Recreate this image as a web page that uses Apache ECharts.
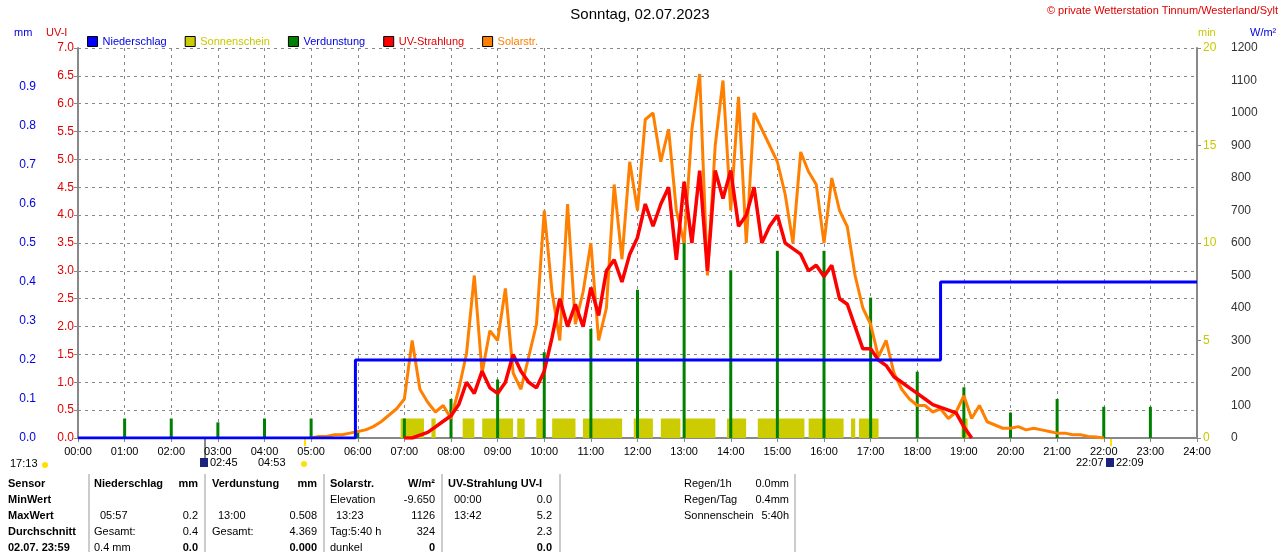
<!DOCTYPE html>
<html><head><meta charset="utf-8">
<script src="https://cdn.jsdelivr.net/npm/echarts@6/dist/echarts.min.js"></script>
<style>html,body{margin:0;padding:0;background:#fff}#c{width:1280px;height:552px}</style>
</head><body><div id="c"></div>
<script>
// ---- data ----
const hourLabels = ["00:00","01:00","02:00","03:00","04:00","05:00","06:00","07:00","08:00","09:00","10:00","11:00","12:00","13:00","14:00","15:00","16:00","17:00","18:00","19:00","20:00","21:00","22:00","23:00","24:00"];
// Solar radiation W/m², every 10 min from 05:00
const solarStart = 5, solarStep = 1/6;
const solarValues = [
 0,5,5,10,10,15,
 20,25,35,50,70,90,
 120,300,150,110,80,100,
 60,150,260,500,200,330,
 300,460,200,150,250,350,
 700,450,300,720,350,450,
 600,300,400,780,550,850,
 700,980,1000,850,950,700,
 600,950,1120,500,900,1100,
 700,1050,600,1000,950,900,
 850,750,600,880,820,780,
 600,800,700,650,500,400,
 350,250,300,200,150,120,
 100,100,80,90,60,80,
 130,60,100,50,40,30,
 30,35,25,30,25,20,
 15,15,10,10,5,3,
 0];
// UV index, every 10 min from 07:00
const uvStart = 7, uvStep = 1/6;
const uvValues = [
 0,0,0.05,0.1,0.2,0.3,
 0.4,0.6,1.0,0.8,1.2,0.9,
 0.8,1.0,1.5,1.2,1.0,0.9,
 1.2,1.8,2.5,2.0,2.4,2.0,
 2.7,2.2,3.0,3.2,2.8,3.3,
 3.6,4.2,3.8,4.2,4.5,3.2,
 4.6,3.5,4.8,3.0,4.8,4.3,
 4.8,3.8,4.0,4.5,3.5,3.8,
 4.0,3.5,3.4,3.3,3.0,3.1,
 2.9,3.1,2.5,2.4,2.0,1.6,
 1.6,1.4,1.3,1.1,1.0,0.9,
 0.8,0.7,0.6,0.55,0.5,0.45,
 0.2,0];
// Precipitation cumulative (mm), step
const rainTimes = [0, 5.95, 5.95, 18.5, 18.5, 24];
const rainValues = [0, 0, 0.2, 0.2, 0.4, 0.4];
// Evaporation per hour (mm)
const evapHours = [1,2,3,4,5,6,7,8,9,10,11,12,13,14,15,16,17,18,19,20,21,22,23];
const evapValues = [0.05,0.05,0.04,0.05,0.05,0.02,0.05,0.1,0.15,0.22,0.28,0.38,0.508,0.43,0.48,0.48,0.36,0.17,0.13,0.065,0.1,0.08,0.08];
// Sunshine intervals (hours) with 1 min/bin
const sunIntervals = [[6.92,7.42],[7.58,7.67],[8.25,8.5],[8.67,9.33],[9.42,9.58],[9.83,10.0],[10.17,10.67],[10.83,11.67],[11.92,12.33],[12.5,12.92],[13.0,13.67],[13.92,14.33],[14.58,15.58],[15.67,16.42],[16.58,16.67],[16.75,17.17],[18.95,19.08]];
const sunValue = 1;

// ---- build ----
const solarData = solarValues.map((v,i)=>[solarStart+i*solarStep, v]);
const uvData = uvValues.map((v,i)=>[uvStart+i*uvStep, v]);
const rainData = rainTimes.map((t,i)=>[t, rainValues[i]]);
const evapData = evapHours.map((h,i)=>[h, evapValues[i]]);
const sunData = [];
sunIntervals.forEach(([a,b])=>{sunData.push([a,0],[a,sunValue],[b,sunValue],[b,0]);});

const F = 'Liberation Sans';
const fs = 11;
const gl = {show:true,lineStyle:{color:'#888',type:[3,4],width:1}};
const chart = echarts.init(document.getElementById('c'));

const T = (x,y,text,opt={})=>({type:'text',x, y, style:Object.assign({text, font:`${opt.bold?'bold ':''}${opt.size||fs}px ${F}`, fill:opt.color||'#000', textAlign:opt.align||'left', textVerticalAlign:'middle'})});
const table = [];
const rowsY = [484,500,516,532,548];
['Sensor','MinWert','MaxWert','Durchschnitt','02.07. 23:59'].forEach((t,i)=>table.push(T(8,rowsY[i],t,{bold:true})));
table.push(T(94,484,'Niederschlag',{bold:true}),T(198,484,'mm',{bold:true,align:'right'}));
table.push(T(100,516,'05:57'),T(198,516,'0.2',{align:'right'}));
table.push(T(94,532,'Gesamt:'),T(198,532,'0.4',{align:'right'}));
table.push(T(94,548,'0.4 mm'),T(198,548,'0.0',{bold:true,align:'right'}));
table.push(T(212,484,'Verdunstung',{bold:true}),T(317,484,'mm',{bold:true,align:'right'}));
table.push(T(218,516,'13:00'),T(317,516,'0.508',{align:'right'}));
table.push(T(212,532,'Gesamt:'),T(317,532,'4.369',{align:'right'}));
table.push(T(317,548,'0.000',{bold:true,align:'right'}));
table.push(T(330,484,'Solarstr.',{bold:true}),T(435,484,'W/m²',{bold:true,align:'right'}));
table.push(T(330,500,'Elevation'),T(435,500,'-9.650',{align:'right'}));
table.push(T(336,516,'13:23'),T(435,516,'1126',{align:'right'}));
table.push(T(330,532,'Tag:5:40 h'),T(435,532,'324',{align:'right'}));
table.push(T(330,548,'dunkel'),T(435,548,'0',{bold:true,align:'right'}));
table.push(T(448,484,'UV-Strahlung UV-I',{bold:true}));
table.push(T(454,500,'00:00'),T(552,500,'0.0',{align:'right'}));
table.push(T(454,516,'13:42'),T(552,516,'5.2',{align:'right'}));
table.push(T(552,532,'2.3',{align:'right'}));
table.push(T(552,548,'0.0',{bold:true,align:'right'}));
table.push(T(684,484,'Regen/1h'),T(789,484,'0.0mm',{align:'right'}));
table.push(T(684,500,'Regen/Tag'),T(789,500,'0.4mm',{align:'right'}));
table.push(T(684,516,'Sonnenschein'),T(789,516,'5:40h',{align:'right'}));
[89,205,324,442,560,795].forEach(x=>table.push({type:'line',shape:{x1:x,y1:474,x2:x,y2:552},style:{stroke:'#999',lineWidth:1}}));
table.push(T(640,15,'Sonntag, 02.07.2023',{size:15,align:'center'}));
table.push(T(1278,11,'© private Wetterstation Tinnum/Westerland/Sylt',{color:'#e00000',align:'right'}));
table.push(T(14,33,'mm',{color:'#0000e0'}),T(46,33,'UV-I',{color:'#e00000'}));
table.push(T(1198,33,'min',{color:'#c8c800'}),T(1250,33,'W/m²',{color:'#0000e0'}));
table.push(T(10,464,'17:13'),{type:'circle',shape:{cx:45,cy:465,r:3},style:{fill:'#ffe000'}});
table.push({type:'rect',shape:{x:200,y:458,width:8,height:9},style:{fill:'#1a237e'}},T(210,463,'02:45'));
table.push(T(258,463,'04:53'),{type:'circle',shape:{cx:304,cy:464,r:3},style:{fill:'#ffe000'}});
table.push(T(1076,463,'22:07'),{type:'rect',shape:{x:1106,y:458,width:8,height:9},style:{fill:'#1a237e'}},T(1116,463,'22:09'));
table.push({type:'line',shape:{x1:305,y1:438,x2:305,y2:446},style:{stroke:'#ffe000',lineWidth:2}});
table.push({type:'line',shape:{x1:1111,y1:438,x2:1111,y2:446},style:{stroke:'#ffe000',lineWidth:2}});
table.push({type:'line',shape:{x1:205,y1:438,x2:205,y2:458},style:{stroke:'#888',lineWidth:2}});

const legItem = (name,color,tc)=>({name,itemStyle:{color,borderColor:'#000',borderWidth:1},textStyle:{color:tc}});

chart.setOption({
  animation:false,
  textStyle:{fontFamily:F,fontSize:fs},
  grid:{left:78,right:83,top:48,bottom:114,containLabel:false},
  legend:{left:82,top:31,itemWidth:10,itemHeight:10,itemGap:18,icon:'rect',textStyle:{fontSize:fs,fontFamily:F},
    data:[legItem('Niederschlag','#0000ff','#0000e0'),legItem('Sonnenschein','#cccc00','#c8c800'),legItem('Verdunstung','#008000','#0000e0'),legItem('UV-Strahlung','#ff0000','#e00000'),legItem('Solarstr.','#ff8000','#ff8000')]},
  xAxis:{type:'value',min:0,max:24,interval:1,
    axisLine:{onZero:false,lineStyle:{color:'#888',width:2}},axisTick:{length:4,lineStyle:{color:'#888'}},
    axisLabel:{formatter:v=>hourLabels[v],color:'#000',fontSize:fs,margin:8},splitLine:gl},
  yAxis:[
    {type:'value',min:0,max:7,interval:0.5,position:'left',axisLine:{show:true,lineStyle:{color:'#888',width:2}},axisTick:{show:true,length:4},
      axisLabel:{color:'#e00000',formatter:v=>v.toFixed(1),margin:4},splitLine:gl},
    {type:'value',min:0,max:1,interval:0.1,position:'left',offset:38,axisLine:{show:false},axisTick:{show:false},
      axisLabel:{color:'#0000e0',formatter:v=>v>=1?'':v.toFixed(1),margin:4},splitLine:{show:false}},
    {type:'value',min:0,max:1200,interval:100,position:'right',offset:0,axisLine:{show:false},axisTick:{show:false},
      axisLabel:{color:'#333',margin:34,formatter:v=>String(v)},splitLine:{show:false}},
    {type:'value',min:0,max:20,interval:5,position:'right',axisLine:{show:true,lineStyle:{color:'#888',width:2}},axisTick:{show:true,length:4},
      axisLabel:{color:'#c8c800',margin:6},splitLine:{show:false}}
  ],
  series:[
    {name:'Sonnenschein',type:'line',yAxisIndex:3,data:sunData,symbol:'none',lineStyle:{width:0},areaStyle:{color:'#cccc00',opacity:1},color:'#cccc00',z:2},
    {name:'Verdunstung',type:'bar',yAxisIndex:1,data:evapData,barWidth:3,itemStyle:{color:'#008000'},z:3},
    {name:'Solarstr.',type:'line',yAxisIndex:2,data:solarData,symbol:'none',lineStyle:{width:3,color:'#ff8000'},color:'#ff8000',z:4},
    {name:'UV-Strahlung',type:'line',yAxisIndex:0,data:uvData,symbol:'none',lineStyle:{width:3.5,color:'#ff0000'},color:'#ff0000',z:5},
    {name:'Niederschlag',type:'line',yAxisIndex:1,data:rainData,symbol:'none',lineStyle:{width:3,color:'#0000ff'},color:'#0000ff',z:6}
  ],
  graphic:table
});
</script></body></html>
